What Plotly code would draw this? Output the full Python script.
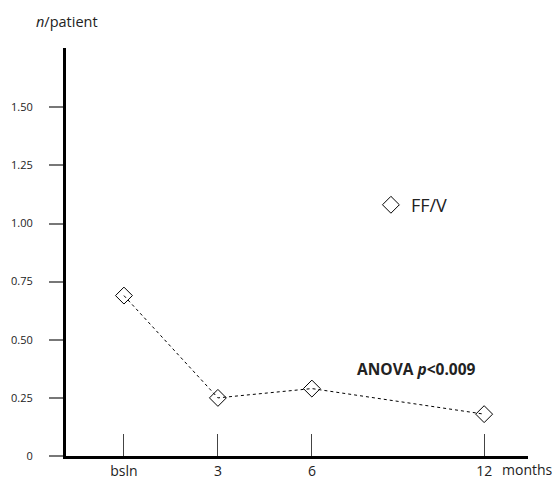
import plotly.graph_objects as go

# Data
categories = ["bsln", "3", "6", "12"]
x_positions = [0, 3, 6, 11.5]   # axis placement of the time points (12 drawn compressed as in the original)
ff_v = [0.69, 0.25, 0.29, 0.18]
y_ticks = [0, 0.25, 0.5, 0.75, 1.0, 1.25, 1.5]
y_tick_text = ["0", "0.25", "0.50", "0.75", "1.00", "1.25", "1.50"]

FONT = "Open Sans, Lato, sans-serif"

fig = go.Figure()
fig.add_trace(go.Scatter(
    x=x_positions, y=ff_v, name="FF/V", mode="lines+markers", showlegend=False,
    line=dict(color="black", width=1, dash="3px,3px"),
    marker=dict(symbol="diamond-open", size=13, color="black", line=dict(width=1, color="black")),
))
# legend entry (marker only)
fig.add_trace(go.Scatter(
    x=[None], y=[None], name="FF/V", mode="markers",
    marker=dict(symbol="diamond-open", size=13, color="black", line=dict(width=1, color="black")),
))

fig.update_layout(
    width=557, height=479,
    margin=dict(l=66, r=29, t=48, b=23, autoexpand=False),
    paper_bgcolor="white", plot_bgcolor="white",
    font=dict(family=FONT, color="#222"),
    showlegend=True,
    legend=dict(x=0.66, y=0.615, xanchor="left", yanchor="middle",
                font=dict(size=18, color="#222"), bgcolor="rgba(0,0,0,0)",
                itemsizing="trace", itemwidth=30),
    xaxis=dict(range=[-1.85, 12.9], tickmode="array", tickvals=x_positions, ticktext=categories,
               showgrid=False, zeroline=False, showline=True, linewidth=3, linecolor="black",
               ticks="inside", ticklen=22, tickwidth=1, tickcolor="#444",
               tickfont=dict(size=14, color="#222"), automargin=False),
    yaxis=dict(range=[0, 1.755], tickmode="array", tickvals=y_ticks, ticktext=y_tick_text,
               showgrid=False, zeroline=False, showline=True, linewidth=3, linecolor="black",
               ticks="outside", ticklen=14, tickwidth=1.5, tickcolor="#777",
               tickfont=dict(size=11, color="#222"), ticklabelstandoff=14, automargin=False),
)

fig.add_annotation(text="<i>n</i>/patient", xref="paper", yref="paper", x=0.002, y=1.064,
                   xanchor="center", yanchor="middle",
                   showarrow=False, font=dict(size=14.5, color="#222"))
fig.add_annotation(text="<b>ANOVA <i>p</i><0.009</b>", xref="paper", yref="paper", x=0.758, y=0.213,
                   xanchor="center", yanchor="middle",
                   showarrow=False, font=dict(size=15.5, color="#222"))
fig.add_annotation(text="months", xref="paper", yref="paper", x=1.056, y=-0.034,
                   xanchor="right", yanchor="middle", borderpad=0,
                   showarrow=False, font=dict(size=14, color="#222"))

fig.write_html("out.html")
